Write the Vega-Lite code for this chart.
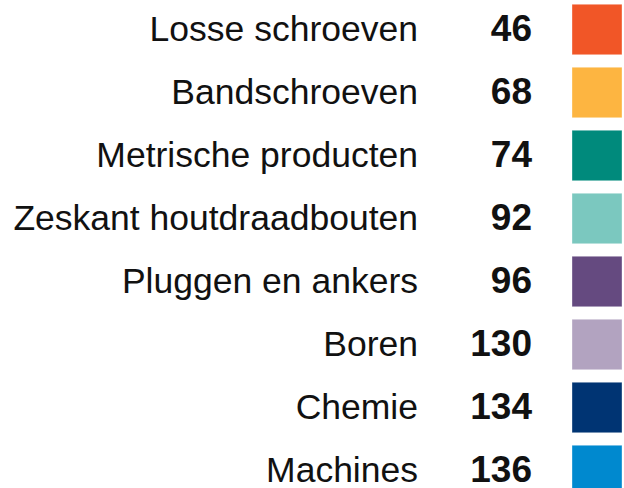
{
  "$schema": "https://vega.github.io/schema/vega-lite/v6.json",
  "autosize": {"type": "none"},
  "width": 624,
  "height": 488,
  "padding": 0,
  "background": "white",
  "config": {"view": {"stroke": null}},
  "data": {
    "values": [
      {"label": "Losse schroeven", "value": 46},
      {"label": "Bandschroeven", "value": 68},
      {"label": "Metrische producten", "value": 74},
      {"label": "Zeskant houtdraadbouten", "value": 92},
      {"label": "Pluggen en ankers", "value": 96},
      {"label": "Boren", "value": 130},
      {"label": "Chemie", "value": 134},
      {"label": "Machines", "value": 136}
    ]
  },
  "encoding": {
    "y": {
      "field": "label",
      "type": "nominal",
      "sort": null,
      "axis": null,
      "scale": {"range": [-2, 502], "paddingInner": 0.2, "paddingOuter": 0.1}
    }
  },
  "layer": [
    {
      "mark": {"type": "text", "align": "right", "baseline": "middle", "font": "Liberation Sans", "fontSize": 35.5, "color": "#111111"},
      "encoding": {
        "x": {"datum": 418, "type": "quantitative", "scale": {"domain": [0, 624], "range": [0, 624], "nice": false, "zero": false}, "axis": null},
        "text": {"field": "label"}
      }
    },
    {
      "mark": {"type": "text", "align": "right", "baseline": "middle", "font": "Liberation Sans", "fontSize": 37, "fontWeight": "bold", "color": "#111111"},
      "encoding": {
        "x": {"datum": 532, "type": "quantitative"},
        "text": {"field": "value"}
      }
    },
    {
      "mark": {"type": "rect", "stroke": "white", "strokeOpacity": 0.35, "strokeWidth": 1},
      "encoding": {
        "x": {"datum": 572, "type": "quantitative"},
        "x2": {"datum": 622},
        "color": {
          "field": "label",
          "type": "nominal",
          "legend": null,
          "scale": {
            "domain": ["Losse schroeven", "Bandschroeven", "Metrische producten", "Zeskant houtdraadbouten", "Pluggen en ankers", "Boren", "Chemie", "Machines"],
            "range": ["#F15627", "#FDB541", "#008A7C", "#7BC8BF", "#654A80", "#B2A3C0", "#003473", "#0089CF"]
          }
        }
      }
    }
  ]
}
